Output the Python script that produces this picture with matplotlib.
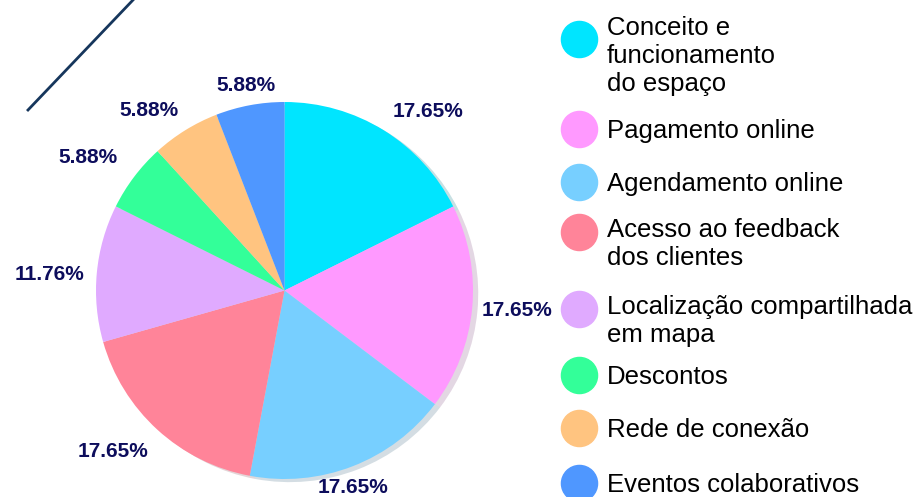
import matplotlib
matplotlib.use("Agg")
import numpy as np
import matplotlib.pyplot as plt
from matplotlib.lines import Line2D

categories = [
    "Conceito e\nfuncionamento\ndo espaço",
    "Pagamento online",
    "Agendamento online",
    "Acesso ao feedback\ndos clientes",
    "Localização compartilhada\nem mapa",
    "Descontos",
    "Rede de conexão",
    "Eventos colaborativos",
]
percentages = [17.65, 17.65, 17.65, 17.65, 11.76, 5.88, 5.88, 5.88]
colors = ["#00E5FF", "#FF99FF", "#77CFFF", "#FF8499", "#E0AAFF", "#33FF99", "#FFC480", "#4F97FF"]

# label layout (radial distance factor, angular nudge in degrees)
label_dist = [1.215, 1.238, 1.104, 1.246, 1.247, 1.257, 1.193, 1.109]
label_rot = [-7.0, 0.5, -2.0, -4.5, 1.5, 3.0, 5.2, 0.0]

plt.rcParams['font.family'] = ['Liberation Sans', 'DejaVu Sans']

W, H = 922, 497
fig = plt.figure(figsize=(W / 100, H / 100), dpi=100)

# pie
ax = fig.add_axes([96 / W, 18 / H, 377 / W, 377 / H])
wedges, texts, autotexts = ax.pie(
    percentages, colors=colors, startangle=90, counterclock=False,
    autopct=lambda p: f"{p:.2f}%", pctdistance=1.2,
    wedgeprops=dict(linewidth=0),
    shadow=dict(ox=0.02, oy=-0.012, shade=0.5, alpha=0.22),
    textprops=dict(fontsize=15, fontweight='bold', color='#0D0D5C'),
)
for w, t, d, r in zip(wedges, autotexts, label_dist, label_rot):
    mid = np.deg2rad((w.theta1 + w.theta2) / 2 + r)
    t.set_position((d * np.cos(mid), d * np.sin(mid)))
    t.set_ha('center')
    t.set_va('center')
ax.set_xlim(-1, 1)
ax.set_ylim(-1, 1)
ax.set_aspect('equal')

# legend
marker_y = [39, 129, 182, 232, 309, 375, 428, 483]
first_line_y = [26, 129, 182, 228, 305, 375, 428, 483]
for col, y in zip(colors, marker_y):
    fig.add_artist(Line2D([579 / W], [1 - y / H], marker='o', markersize=26,
                          color=col, linestyle='none', transform=fig.transFigure))
for lab, y in zip(categories, first_line_y):
    fig.text(607 / W, 1 - (y - 10) / H, lab, fontsize=18.5, color='black',
             ha='left', va='top', linespacing=1.22, transform=fig.transFigure)

# decorative diagonal line
fig.add_artist(Line2D([28 / W, 133 / W], [1 - 110 / H, 1.0], color='#16365C',
                      linewidth=2, transform=fig.transFigure))

fig.savefig("out.png", dpi=100)
